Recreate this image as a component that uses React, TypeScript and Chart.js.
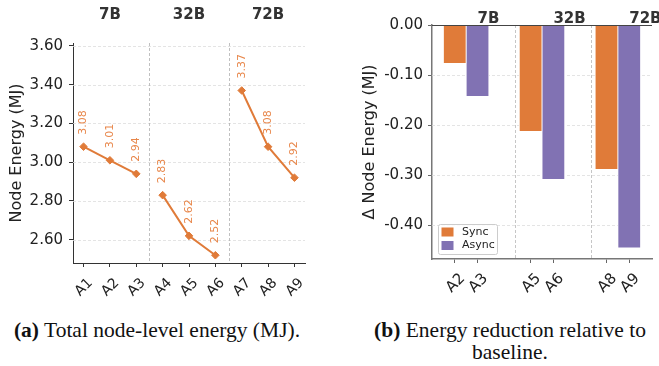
import React, { useEffect, useRef } from 'react';
import { Chart, registerables } from 'chart.js';

Chart.register(...registerables);

// ---------- data ----------
const stepLabels = ['A1', 'A2', 'A3', 'A4', 'A5', 'A6', 'A7', 'A8', 'A9'];
const totalEnergy = [3.08, 3.01, 2.94, 2.83, 2.62, 2.52, 3.37, 3.08, 2.92];
const modelGroups = ['7B', '32B', '72B'];
const leftYTicks = [2.6, 2.8, 3.0, 3.2, 3.4, 3.6];

const syncLabels = ['A2', 'A5', 'A8'];
const asyncLabels = ['A3', 'A6', 'A9'];
const syncDelta = [-0.077, -0.213, -0.289];
const asyncDelta = [-0.143, -0.309, -0.446];
const rightYTicks = [0, -0.1, -0.2, -0.3, -0.4];

// ---------- styles ----------
const ORANGE = '#E07B39';
const PURPLE = '#8172B3';
const LABEL_ORANGE = '#E8874B';
const FONT = "'DejaVu Sans', sans-serif";
const GROUP_SIZE = 3;
const BAR_OFFSET = 0.15;

const leftDecor = {
  id: 'leftDecor',
  beforeDatasetsDraw(chart: any) {
    const { ctx, chartArea: a, scales } = chart;
    const x = scales.x, y = scales.y;
    ctx.save();
    ctx.lineWidth = 0.8;
    ctx.setLineDash([3, 2]);
    ctx.strokeStyle = '#dddddd';
    leftYTicks.forEach((v) => {
      const py = Math.round(y.getPixelForValue(v)) + 0.5;
      ctx.beginPath();
      ctx.moveTo(a.left, py);
      ctx.lineTo(a.right, py);
      ctx.stroke();
    });
    ctx.strokeStyle = '#b0b0b0';
    for (let g = 1; g < modelGroups.length; g++) {
      const px = Math.round(x.getPixelForValue(g * GROUP_SIZE - 0.5)) + 0.5;
      ctx.beginPath();
      ctx.moveTo(px, a.top);
      ctx.lineTo(px, a.bottom);
      ctx.stroke();
    }
    ctx.restore();
  },
  afterDatasetsDraw(chart: any) {
    const { ctx, chartArea: a, scales } = chart;
    const x = scales.x;
    chart.data.datasets.forEach((ds: any, di: number) => {
      const meta = chart.getDatasetMeta(di);
      meta.data.forEach((pt: any, j: number) => {
        const v = ds.data[j].y;
        ctx.save();
        ctx.translate(pt.x, pt.y - 12);
        ctx.rotate(-Math.PI / 2);
        ctx.textAlign = 'left';
        ctx.textBaseline = 'middle';
        ctx.fillStyle = LABEL_ORANGE;
        ctx.font = `11px ${FONT}`;
        ctx.fillText(v.toFixed(2), 0, 0);
        ctx.restore();
      });
    });
    ctx.save();
    ctx.font = `bold 15px ${FONT}`;
    ctx.fillStyle = '#333333';
    ctx.textAlign = 'center';
    ctx.textBaseline = 'middle';
    modelGroups.forEach((name, g) => {
      const px = x.getPixelForValue(g * GROUP_SIZE + (GROUP_SIZE - 1) / 2);
      ctx.fillText(name, px, a.top - 28);
    });
    ctx.restore();
  },
};

const rightTickPos: number[] = [];
const rightTickText: string[] = [];
syncLabels.forEach((lab, i) => {
  rightTickPos.push(i - BAR_OFFSET, i + BAR_OFFSET);
  rightTickText.push(lab, asyncLabels[i]);
});

const rightDecor = {
  id: 'rightDecor',
  beforeDatasetsDraw(chart: any) {
    const { ctx, chartArea: a, scales } = chart;
    const x = scales.x, y = scales.y;
    ctx.save();
    ctx.lineWidth = 0.8;
    ctx.setLineDash([3, 2]);
    ctx.strokeStyle = '#dddddd';
    rightYTicks.forEach((v) => {
      if (v === 0) return;
      const py = Math.round(y.getPixelForValue(v)) + 0.5;
      ctx.beginPath();
      ctx.moveTo(a.left, py);
      ctx.lineTo(a.right, py);
      ctx.stroke();
    });
    ctx.strokeStyle = '#b8b8b8';
    for (let g = 1; g < modelGroups.length; g++) {
      const px = Math.round(x.getPixelForValue(g - 0.5 + BAR_OFFSET)) + 0.5;
      ctx.beginPath();
      ctx.moveTo(px, a.top);
      ctx.lineTo(px, a.bottom);
      ctx.stroke();
    }
    ctx.restore();
  },
  afterDatasetsDraw(chart: any) {
    const { ctx, chartArea: a, scales } = chart;
    const x = scales.x, y = scales.y;
    ctx.save();
    const zy = Math.round(y.getPixelForValue(0)) + 0.5;
    ctx.strokeStyle = '#444444';
    ctx.lineWidth = 1.2;
    ctx.beginPath();
    ctx.moveTo(a.left, zy);
    ctx.lineTo(a.right, zy);
    ctx.stroke();

    ctx.font = `bold 15px ${FONT}`;
    ctx.fillStyle = '#333333';
    ctx.textAlign = 'left';
    ctx.textBaseline = 'alphabetic';
    modelGroups.forEach((name, g) => {
      ctx.fillText(name, x.getPixelForValue(g + BAR_OFFSET), zy - 3);
    });

    // legend
    const bx = a.left + 6, by = a.bottom - 35, bw = 59, bh = 30;
    ctx.fillStyle = 'rgba(255,255,255,0.85)';
    ctx.strokeStyle = '#cccccc';
    ctx.lineWidth = 1;
    ctx.beginPath();
    if ((ctx as any).roundRect) (ctx as any).roundRect(bx + 0.5, by + 0.5, bw, bh, 2);
    else ctx.rect(bx + 0.5, by + 0.5, bw, bh);
    ctx.fill();
    ctx.stroke();
    ctx.font = `11px ${FONT}`;
    ctx.textBaseline = 'middle';
    chart.data.datasets.forEach((ds: any, i: number) => {
      const cy = by + 8 + i * 13.5;
      ctx.fillStyle = ds.backgroundColor;
      ctx.fillRect(bx + 3.5, cy - 4.5, 12, 9);
      ctx.fillStyle = '#222222';
      ctx.fillText(ds.label, bx + 24, cy);
    });
    ctx.restore();
  },
};

function LeftChart() {
  const ref = useRef<HTMLCanvasElement>(null);
  useEffect(() => {
    const datasets = modelGroups.map((name, g) => {
      const idx = Array.from({ length: GROUP_SIZE }, (_, k) => g * GROUP_SIZE + k);
      return {
        label: name,
        data: idx.map((i) => ({ x: i, y: totalEnergy[i] })),
        borderColor: ORANGE,
        backgroundColor: ORANGE,
        borderWidth: 2,
        pointStyle: 'rectRot',
        pointRadius: 3.8,
        pointBorderWidth: 1,
        tension: 0,
      };
    });
    const chart = new Chart(ref.current as HTMLCanvasElement, {
      type: 'line',
      data: { datasets } as any,
      plugins: [leftDecor],
      options: {
        animation: false,
        responsive: false,
        devicePixelRatio: 1,
        layout: { padding: { top: 43, right: 25, left: 0, bottom: 0 } },
        plugins: { legend: { display: false }, tooltip: { enabled: false } },
        scales: {
          x: {
            type: 'linear',
            min: -0.4,
            max: 8.4,
            offset: false,
            afterFit: (s: any) => { s.height = 37; },
            afterBuildTicks: (s: any) => { s.ticks = stepLabels.map((_, i) => ({ value: i })); },
            grid: { drawOnChartArea: false, drawTicks: true, tickLength: 4, tickColor: '#333333', tickWidth: 1 },
            border: { color: '#333333', width: 1 },
            ticks: {
              autoSkip: false,
              minRotation: 45,
              maxRotation: 45,
              padding: 8,
              labelOffset: 7,
              color: '#222222',
              font: { family: FONT, size: 14 },
              callback: (v: any) => stepLabels[Math.round(Number(v))] ?? '',
            },
          },
          y: {
            type: 'linear',
            min: 2.48,
            max: 3.615,
            afterFit: (s: any) => { s.width = 73; },
            afterBuildTicks: (s: any) => { s.ticks = leftYTicks.map((v) => ({ value: v })); },
            grid: { drawOnChartArea: false, drawTicks: true, tickLength: 4, tickColor: '#333333', tickWidth: 1 },
            border: { color: '#333333', width: 1 },
            ticks: {
              padding: 6,
              color: '#222222',
              font: { family: FONT, size: 15 },
              callback: (v: any) => Number(v).toFixed(2),
            },
            title: {
              display: true,
              text: 'Node Energy (MJ)',
              color: '#222222',
              font: { family: FONT, size: 16 },
              padding: { top: 7, bottom: 0 },
            },
          },
        },
      } as any,
    });
    return () => chart.destroy();
  }, []);
  return (
    <canvas
      ref={ref}
      width={330}
      height={300}
      style={{ position: 'absolute', left: 0, top: 0, width: 330, height: 300 }}
    />
  );
}

function RightChart() {
  const ref = useRef<HTMLCanvasElement>(null);
  useEffect(() => {
    const chart = new Chart(ref.current as HTMLCanvasElement, {
      type: 'bar',
      data: {
        datasets: [
          {
            label: 'Sync',
            data: syncDelta.map((v, i) => ({ x: i - BAR_OFFSET, y: v })),
            backgroundColor: ORANGE,
            borderColor: '#ffffff',
            borderWidth: 0.8,
            grouped: false,
            barPercentage: 1,
            categoryPercentage: 1,
          },
          {
            label: 'Async',
            data: asyncDelta.map((v, i) => ({ x: i + BAR_OFFSET, y: v })),
            backgroundColor: PURPLE,
            borderColor: '#ffffff',
            borderWidth: 0.8,
            grouped: false,
            barPercentage: 1,
            categoryPercentage: 1,
          },
        ],
      } as any,
      plugins: [rightDecor],
      options: {
        animation: false,
        responsive: false,
        devicePixelRatio: 1,
        layout: { padding: { top: 25, right: 7, left: 0, bottom: 0 } },
        plugins: { legend: { display: false }, tooltip: { enabled: false } },
        scales: {
          x: {
            type: 'linear',
            min: -0.45,
            max: 2.45,
            offset: false,
            afterFit: (s: any) => { s.height = 41; },
            afterBuildTicks: (s: any) => { s.ticks = rightTickPos.map((v) => ({ value: v })); },
            grid: { offset: false, drawOnChartArea: false, drawTicks: true, tickLength: 4, tickColor: '#666666', tickWidth: 1 },
            border: { color: '#777777', width: 1.5 },
            ticks: {
              autoSkip: false,
              minRotation: 45,
              maxRotation: 45,
              padding: 7,
              labelOffset: 8,
              color: '#222222',
              font: { family: FONT, size: 15 },
              callback: (v: any) => {
                const k = rightTickPos.findIndex((p) => Math.abs(p - Number(v)) < 1e-6);
                return k >= 0 ? rightTickText[k] : '';
              },
            },
          },
          y: {
            type: 'linear',
            min: -0.468,
            max: 0,
            afterFit: (s: any) => { s.width = 102; },
            afterBuildTicks: (s: any) => { s.ticks = rightYTicks.map((v) => ({ value: v })); },
            grid: { drawOnChartArea: false, drawTicks: true, tickLength: 4, tickColor: '#666666', tickWidth: 1 },
            border: { color: '#777777', width: 1.5 },
            ticks: {
              padding: 5,
              color: '#222222',
              font: { family: FONT, size: 15 },
              callback: (v: any) => Number(v).toFixed(2),
            },
            title: {
              display: true,
              text: 'Δ Node Energy (MJ)',
              color: '#222222',
              font: { family: FONT, size: 16 },
              padding: { top: 30, bottom: 0 },
            },
          },
        },
      } as any,
    });
    return () => chart.destroy();
  }, []);
  return (
    <canvas
      ref={ref}
      width={329}
      height={300}
      style={{ position: 'absolute', left: 330, top: 0, width: 329, height: 300 }}
    />
  );
}

const captionStyle: React.CSSProperties = {
  position: 'absolute',
  fontFamily: "'Liberation Serif', 'Times New Roman', serif",
  fontSize: 21.5,
  lineHeight: '22px',
  color: '#111111',
  textAlign: 'center',
  whiteSpace: 'nowrap',
};

export default function App() {
  return (
    <div
      style={{
        position: 'fixed',
        left: 0,
        top: 0,
        width: 659,
        height: 366,
        background: '#ffffff',
        overflow: 'hidden',
      }}
    >
      <LeftChart />
      <RightChart />
      <div style={{ ...captionStyle, left: 0, top: 319, width: 314 }}>
        <b>(a)</b> Total node-level energy (MJ).
      </div>
      <div style={{ ...captionStyle, left: 360, top: 319, width: 300 }}>
        <b>(b)</b> Energy reduction relative to
        <br />
        baseline.
      </div>
    </div>
  );
}
